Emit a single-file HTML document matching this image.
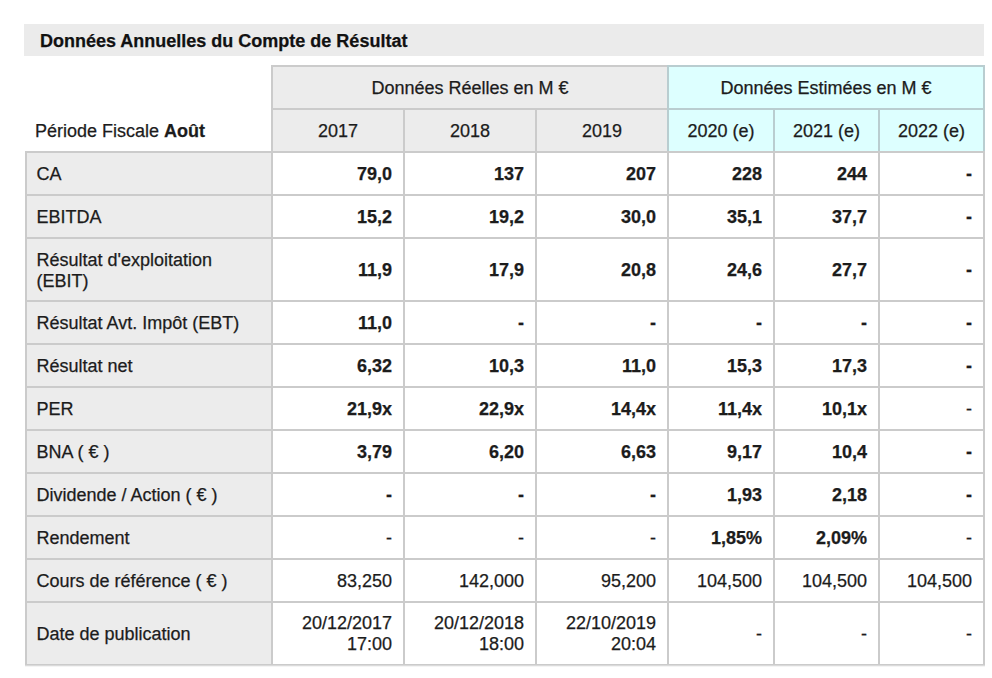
<!DOCTYPE html>
<html><head><meta charset="utf-8"><style>
html,body{margin:0;padding:0;background:#fff;}
span{-webkit-text-stroke:0.25px currentColor;}
body{width:992px;height:678px;position:relative;overflow:hidden;font-family:"Liberation Sans",sans-serif;font-size:18px;color:#1c1c1c;}
div{position:absolute;box-sizing:border-box;}
.title{font-weight:bold;line-height:33px;padding-left:16px;color:#111;}
.c{display:flex;align-items:center;line-height:21px;}
.c span{position:relative;top:1px;}
.two span{top:0;}
.ctr{justify-content:center;text-align:center;}
.lab{padding-left:9.5px;}
.num{justify-content:flex-end;text-align:right;padding-right:11px;}
.hl{}
</style></head><body>
<div class="title" style="left:24px;top:24px;width:960px;height:32px;background:#ebebeb;"><span><span style="position:relative;top:1px">Données Annuelles du Compte de Résultat</span></span></div>
<div class="" style="left:271px;top:65px;width:398px;height:88px;background:#cbcbcb;"></div>
<div class="" style="left:667px;top:65px;width:318px;height:88px;background:#b9cdd0;"></div>
<div class="c hl ctr" style="left:273px;top:67px;width:394px;height:41px;background:#ececec;"><span>Données Réelles en M €</span></div>
<div class="c hl ctr" style="left:669px;top:67px;width:314px;height:41px;background:#ddffff;"><span>Données Estimées en M €</span></div>
<div class="c lab" style="left:25.5px;top:109px;width:245.5px;height:42px;background:#fff;"><span>Période Fiscale <b>Août</b></span></div>
<div class="c hl ctr" style="left:273px;top:110px;width:130px;height:41px;background:#ececec;"><span>2017</span></div>
<div class="c hl ctr" style="left:405px;top:110px;width:130px;height:41px;background:#ececec;"><span>2018</span></div>
<div class="c hl ctr" style="left:537px;top:110px;width:130px;height:41px;background:#ececec;"><span>2019</span></div>
<div class="c hl ctr" style="left:669px;top:110px;width:104px;height:41px;background:#ddffff;"><span>2020 (e)</span></div>
<div class="c hl ctr" style="left:775px;top:110px;width:103px;height:41px;background:#ddffff;"><span>2021 (e)</span></div>
<div class="c hl ctr" style="left:880px;top:110px;width:103px;height:41px;background:#ddffff;"><span>2022 (e)</span></div>
<div class="" style="left:25px;top:151px;width:960px;height:514px;background:#cbcbcb;"></div>
<div class="" style="left:25px;top:665px;width:960px;height:1px;background:#dadada;"></div>
<div class="" style="left:25px;top:666px;width:960px;height:1px;background:#f4f4f4;"></div>
<div class="c hl lab" style="left:27px;top:153px;width:244px;height:41px;background:#ececec;"><span>CA</span></div>
<div class="c num" style="left:273px;top:153px;width:130px;height:41px;background:#fff;font-weight:bold;"><span>79,0</span></div>
<div class="c num" style="left:405px;top:153px;width:130px;height:41px;background:#fff;font-weight:bold;"><span>137</span></div>
<div class="c num" style="left:537px;top:153px;width:130px;height:41px;background:#fff;font-weight:bold;"><span>207</span></div>
<div class="c num" style="left:669px;top:153px;width:104px;height:41px;background:#fff;font-weight:bold;"><span>228</span></div>
<div class="c num" style="left:775px;top:153px;width:103px;height:41px;background:#fff;font-weight:bold;"><span>244</span></div>
<div class="c num" style="left:880px;top:153px;width:103px;height:41px;background:#fff;font-weight:bold;"><span>-</span></div>
<div class="c hl lab" style="left:27px;top:196px;width:244px;height:41px;background:#ececec;"><span>EBITDA</span></div>
<div class="c num" style="left:273px;top:196px;width:130px;height:41px;background:#fff;font-weight:bold;"><span>15,2</span></div>
<div class="c num" style="left:405px;top:196px;width:130px;height:41px;background:#fff;font-weight:bold;"><span>19,2</span></div>
<div class="c num" style="left:537px;top:196px;width:130px;height:41px;background:#fff;font-weight:bold;"><span>30,0</span></div>
<div class="c num" style="left:669px;top:196px;width:104px;height:41px;background:#fff;font-weight:bold;"><span>35,1</span></div>
<div class="c num" style="left:775px;top:196px;width:103px;height:41px;background:#fff;font-weight:bold;"><span>37,7</span></div>
<div class="c num" style="left:880px;top:196px;width:103px;height:41px;background:#fff;font-weight:bold;"><span>-</span></div>
<div class="c hl lab" style="left:27px;top:239px;width:244px;height:61px;background:#ececec;"><span>Résultat d'exploitation<br>(EBIT)</span></div>
<div class="c num" style="left:273px;top:239px;width:130px;height:61px;background:#fff;font-weight:bold;"><span>11,9</span></div>
<div class="c num" style="left:405px;top:239px;width:130px;height:61px;background:#fff;font-weight:bold;"><span>17,9</span></div>
<div class="c num" style="left:537px;top:239px;width:130px;height:61px;background:#fff;font-weight:bold;"><span>20,8</span></div>
<div class="c num" style="left:669px;top:239px;width:104px;height:61px;background:#fff;font-weight:bold;"><span>24,6</span></div>
<div class="c num" style="left:775px;top:239px;width:103px;height:61px;background:#fff;font-weight:bold;"><span>27,7</span></div>
<div class="c num" style="left:880px;top:239px;width:103px;height:61px;background:#fff;font-weight:bold;"><span>-</span></div>
<div class="c hl lab" style="left:27px;top:302px;width:244px;height:41px;background:#ececec;"><span>Résultat Avt. Impôt (EBT)</span></div>
<div class="c num" style="left:273px;top:302px;width:130px;height:41px;background:#fff;font-weight:bold;"><span>11,0</span></div>
<div class="c num" style="left:405px;top:302px;width:130px;height:41px;background:#fff;font-weight:bold;"><span>-</span></div>
<div class="c num" style="left:537px;top:302px;width:130px;height:41px;background:#fff;font-weight:bold;"><span>-</span></div>
<div class="c num" style="left:669px;top:302px;width:104px;height:41px;background:#fff;font-weight:bold;"><span>-</span></div>
<div class="c num" style="left:775px;top:302px;width:103px;height:41px;background:#fff;font-weight:bold;"><span>-</span></div>
<div class="c num" style="left:880px;top:302px;width:103px;height:41px;background:#fff;font-weight:bold;"><span>-</span></div>
<div class="c hl lab" style="left:27px;top:345px;width:244px;height:41px;background:#ececec;"><span>Résultat net</span></div>
<div class="c num" style="left:273px;top:345px;width:130px;height:41px;background:#fff;font-weight:bold;"><span>6,32</span></div>
<div class="c num" style="left:405px;top:345px;width:130px;height:41px;background:#fff;font-weight:bold;"><span>10,3</span></div>
<div class="c num" style="left:537px;top:345px;width:130px;height:41px;background:#fff;font-weight:bold;"><span>11,0</span></div>
<div class="c num" style="left:669px;top:345px;width:104px;height:41px;background:#fff;font-weight:bold;"><span>15,3</span></div>
<div class="c num" style="left:775px;top:345px;width:103px;height:41px;background:#fff;font-weight:bold;"><span>17,3</span></div>
<div class="c num" style="left:880px;top:345px;width:103px;height:41px;background:#fff;font-weight:bold;"><span>-</span></div>
<div class="c hl lab" style="left:27px;top:388px;width:244px;height:41px;background:#ececec;"><span>PER</span></div>
<div class="c num" style="left:273px;top:388px;width:130px;height:41px;background:#fff;font-weight:bold;"><span>21,9x</span></div>
<div class="c num" style="left:405px;top:388px;width:130px;height:41px;background:#fff;font-weight:bold;"><span>22,9x</span></div>
<div class="c num" style="left:537px;top:388px;width:130px;height:41px;background:#fff;font-weight:bold;"><span>14,4x</span></div>
<div class="c num" style="left:669px;top:388px;width:104px;height:41px;background:#fff;font-weight:bold;"><span>11,4x</span></div>
<div class="c num" style="left:775px;top:388px;width:103px;height:41px;background:#fff;font-weight:bold;"><span>10,1x</span></div>
<div class="c num" style="left:880px;top:388px;width:103px;height:41px;background:#fff;"><span>-</span></div>
<div class="c hl lab" style="left:27px;top:431px;width:244px;height:41px;background:#ececec;"><span>BNA ( € )</span></div>
<div class="c num" style="left:273px;top:431px;width:130px;height:41px;background:#fff;font-weight:bold;"><span>3,79</span></div>
<div class="c num" style="left:405px;top:431px;width:130px;height:41px;background:#fff;font-weight:bold;"><span>6,20</span></div>
<div class="c num" style="left:537px;top:431px;width:130px;height:41px;background:#fff;font-weight:bold;"><span>6,63</span></div>
<div class="c num" style="left:669px;top:431px;width:104px;height:41px;background:#fff;font-weight:bold;"><span>9,17</span></div>
<div class="c num" style="left:775px;top:431px;width:103px;height:41px;background:#fff;font-weight:bold;"><span>10,4</span></div>
<div class="c num" style="left:880px;top:431px;width:103px;height:41px;background:#fff;font-weight:bold;"><span>-</span></div>
<div class="c hl lab" style="left:27px;top:474px;width:244px;height:41px;background:#ececec;"><span>Dividende / Action ( € )</span></div>
<div class="c num" style="left:273px;top:474px;width:130px;height:41px;background:#fff;font-weight:bold;"><span>-</span></div>
<div class="c num" style="left:405px;top:474px;width:130px;height:41px;background:#fff;font-weight:bold;"><span>-</span></div>
<div class="c num" style="left:537px;top:474px;width:130px;height:41px;background:#fff;font-weight:bold;"><span>-</span></div>
<div class="c num" style="left:669px;top:474px;width:104px;height:41px;background:#fff;font-weight:bold;"><span>1,93</span></div>
<div class="c num" style="left:775px;top:474px;width:103px;height:41px;background:#fff;font-weight:bold;"><span>2,18</span></div>
<div class="c num" style="left:880px;top:474px;width:103px;height:41px;background:#fff;font-weight:bold;"><span>-</span></div>
<div class="c hl lab" style="left:27px;top:517px;width:244px;height:41px;background:#ececec;"><span>Rendement</span></div>
<div class="c num" style="left:273px;top:517px;width:130px;height:41px;background:#fff;"><span>-</span></div>
<div class="c num" style="left:405px;top:517px;width:130px;height:41px;background:#fff;"><span>-</span></div>
<div class="c num" style="left:537px;top:517px;width:130px;height:41px;background:#fff;"><span>-</span></div>
<div class="c num" style="left:669px;top:517px;width:104px;height:41px;background:#fff;font-weight:bold;"><span>1,85%</span></div>
<div class="c num" style="left:775px;top:517px;width:103px;height:41px;background:#fff;font-weight:bold;"><span>2,09%</span></div>
<div class="c num" style="left:880px;top:517px;width:103px;height:41px;background:#fff;"><span>-</span></div>
<div class="c hl lab" style="left:27px;top:560px;width:244px;height:41px;background:#ececec;"><span>Cours de référence ( € )</span></div>
<div class="c num" style="left:273px;top:560px;width:130px;height:41px;background:#fff;"><span>83,250</span></div>
<div class="c num" style="left:405px;top:560px;width:130px;height:41px;background:#fff;"><span>142,000</span></div>
<div class="c num" style="left:537px;top:560px;width:130px;height:41px;background:#fff;"><span>95,200</span></div>
<div class="c num" style="left:669px;top:560px;width:104px;height:41px;background:#fff;"><span>104,500</span></div>
<div class="c num" style="left:775px;top:560px;width:103px;height:41px;background:#fff;"><span>104,500</span></div>
<div class="c num" style="left:880px;top:560px;width:103px;height:41px;background:#fff;"><span>104,500</span></div>
<div class="c hl lab" style="left:27px;top:603px;width:244px;height:61px;background:#ececec;"><span>Date de publication</span></div>
<div class="c num two" style="left:273px;top:603px;width:130px;height:61px;background:#fff;"><span>20/12/2017<br>17:00</span></div>
<div class="c num two" style="left:405px;top:603px;width:130px;height:61px;background:#fff;"><span>20/12/2018<br>18:00</span></div>
<div class="c num two" style="left:537px;top:603px;width:130px;height:61px;background:#fff;"><span>22/10/2019<br>20:04</span></div>
<div class="c num" style="left:669px;top:603px;width:104px;height:61px;background:#fff;"><span>-</span></div>
<div class="c num" style="left:775px;top:603px;width:103px;height:61px;background:#fff;"><span>-</span></div>
<div class="c num" style="left:880px;top:603px;width:103px;height:61px;background:#fff;"><span>-</span></div>
</body></html>
